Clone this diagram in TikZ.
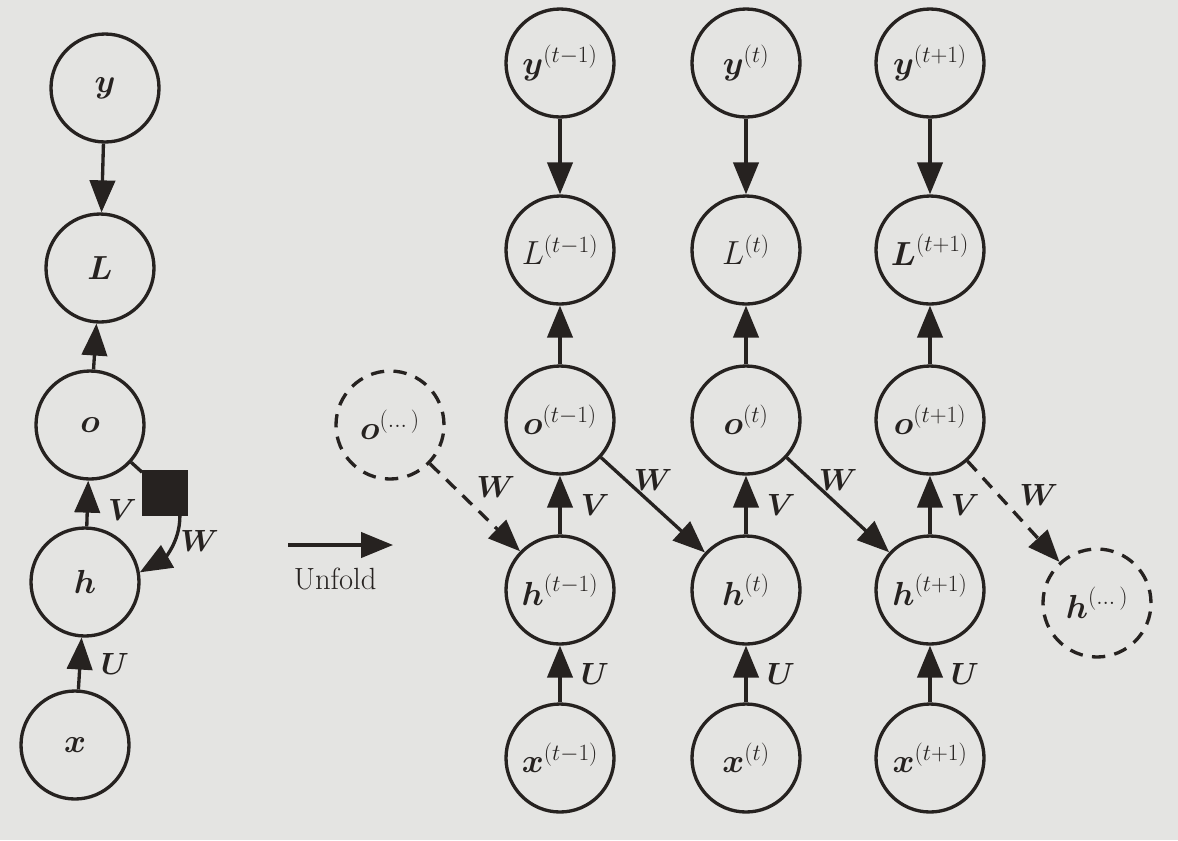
\RequirePackage{fix-cm}
\documentclass[tikz,border=0pt]{standalone}
\usepackage{amsmath}
\usepackage{tikz}
\usetikzlibrary{arrows.meta}
\definecolor{ink}{RGB}{38,34,32}
\definecolor{page}{RGB}{228,228,226}

\begin{document}
\begin{tikzpicture}[
  x=0.75pt, y=0.75pt,
  unit/.style={circle, draw=ink, line width=2.5pt, minimum size=81pt, inner sep=0pt,
               text=ink, font=\fontsize{25}{29}\selectfont},
  ghostUnit/.style={unit, dash pattern=on 10pt off 7pt},
  delayBox/.style={rectangle, fill=ink, minimum size=34pt, inner sep=0pt},
  arr/.style={-{Triangle[length=24pt, width=19pt]}, line width=2.5pt, draw=ink},
  dashArr/.style={arr, dash pattern=on 10pt off 7pt},
  lab/.style={text=ink, font=\fontsize{23}{27}\selectfont}
]
\useasboundingbox[fill=page] (0,0) rectangle (1178,-840);

% folded graph
\node[unit] (y0) at (105,-88)  {$\boldsymbol{y}$};
\node[unit] (L0) at (100,-268) {$\boldsymbol{L}$};
\node[unit] (o0) at (90,-425)  {$\boldsymbol{o}$};
\node[unit] (h0) at (85,-582)  {$\boldsymbol{h}$};
\node[unit] (x0) at (75,-745)  {$\boldsymbol{x}$};
\node[delayBox] (d0) at (165,-493) {};

\draw[arr] (y0) -- (L0);
\draw[arr] (o0) -- (L0);
\draw[arr] (h0) -- node[lab, right=11pt, pos=0.35] {$\boldsymbol{V}$} (o0);
\draw[arr] (x0) -- node[lab, right=11pt] {$\boldsymbol{U}$} (h0);
\draw[line width=2.5pt, draw=ink] (o0) -- (d0);
\draw[arr] (d0.-57) to[out=-90, in=30] node[lab, right, pos=0.35] {$\boldsymbol{W}$} (h0.10);

% unfold arrow
\coordinate (u0) at (288,-545);
\coordinate (u1) at (393,-545);
\draw[arr] (u0) -- node[lab, below=13pt, xshift=-4pt] {Unfold} (u1);

% unfolded graph, one column per time step
\foreach \i/\cx/\s/\lsym in {1/560/t-1/L, 2/746/t/L, 3/930/t+1/\boldsymbol{L}} {
  \node[unit] (y\i) at (\cx,-63)  {$\boldsymbol{y}^{(\s)}$};
  \node[unit] (L\i) at (\cx,-250) {$\lsym^{(\s)}$};
  \node[unit] (o\i) at (\cx,-420) {$\boldsymbol{o}^{(\s)}$};
  \node[unit] (h\i) at (\cx,-590) {$\boldsymbol{h}^{(\s)}$};
  \node[unit] (x\i) at (\cx,-758) {$\boldsymbol{x}^{(\s)}$};
  \draw[arr] (y\i) -- (L\i);
  \draw[arr] (o\i) -- (L\i);
  \draw[arr] (h\i) -- node[lab, right=11pt] {$\boldsymbol{V}$} (o\i);
  \draw[arr] (x\i) -- node[lab, right=11pt] {$\boldsymbol{U}$} (h\i);
}
\node[ghostUnit] (oS) at (390,-425)  {$\boldsymbol{o}^{(\dots)}$};
\node[ghostUnit] (hE) at (1097,-603) {$\boldsymbol{h}^{(\dots)}$};

% recurrence
\draw[dashArr] (oS) -- node[lab, above right, pos=0.45] {$\boldsymbol{W}$} (h1);
\foreach \i/\j in {1/2, 2/3} \draw[arr] (o\i) -- node[lab, above=6pt] {$\boldsymbol{W}$} (h\j);
\draw[dashArr] (o3) -- node[lab, above right] {$\boldsymbol{W}$} (hE);
\end{tikzpicture}
\end{document}
